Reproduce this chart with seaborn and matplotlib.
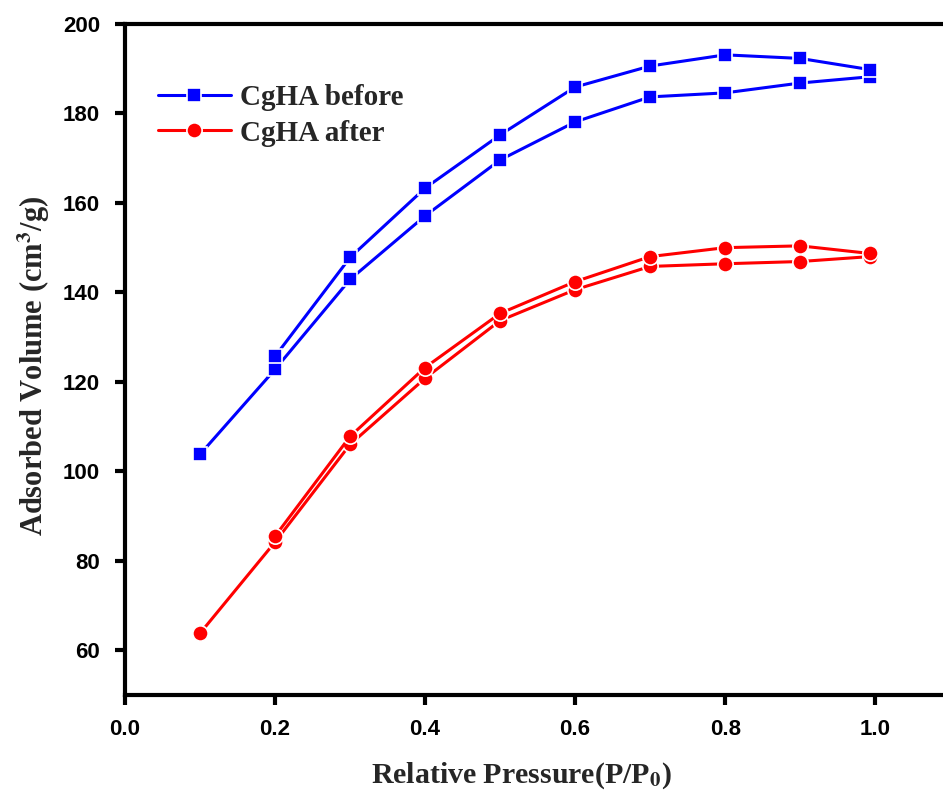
import matplotlib
matplotlib.use("Agg")
import matplotlib.pyplot as plt
import seaborn as sns
import pandas as pd

# DATA
pressure_ads = [0.1, 0.2, 0.3, 0.4, 0.5, 0.6, 0.7, 0.8, 0.9, 0.993]
pressure_des = [0.993, 0.9, 0.8, 0.7, 0.6, 0.5, 0.4, 0.3, 0.2]

before_ads = [103.8, 122.8, 142.9, 157.1, 169.6, 178.1, 183.7, 184.6, 186.8, 188.2]
before_des = [189.8, 192.3, 193.1, 190.6, 185.9, 175.2, 163.3, 147.8, 125.7]

after_ads = [63.8, 84.2, 106.0, 120.8, 133.7, 140.6, 145.8, 146.4, 146.9, 148.0]
after_des = [148.7, 150.4, 150.0, 148.0, 142.4, 135.3, 123.2, 107.8, 85.5]

XTICKS = [0.0, 0.2, 0.4, 0.6, 0.8, 1.0]
YTICKS = [60, 80, 100, 120, 140, 160, 180, 200]

sns.set_theme(style="ticks")
plt.rcParams["mathtext.fontset"] = "stix"

fig = plt.figure(figsize=(9.43, 7.94), dpi=100)
ax = fig.add_axes([0.1326, 0.1247, 0.875, 0.8451])

series = [
    ("CgHA before", "#0000ff", "s", 10, before_ads, before_des),
    ("CgHA after", "#ff0000", "o", 11, after_ads, after_des),
]

for label, color, marker, ms, ads, des in series:
    for i, (xs, ys) in enumerate([(pressure_ads, ads), (pressure_des, des)]):
        d = pd.DataFrame({"p": xs, "v": ys})
        sns.lineplot(data=d, x="p", y="v", sort=False, ax=ax,
                     color=color, linewidth=2.2, marker=marker,
                     markersize=ms, markeredgecolor="white",
                     markeredgewidth=1.2, markerfacecolor=color,
                     label=label if i == 0 else None)

ax.set_xlim(0, 1.1)
ax.set_ylim(50, 200)
ax.set_xticks(XTICKS)
ax.set_yticks(YTICKS)
ax.set_xticklabels([f"{t:.1f}" for t in XTICKS])

for side in ["left", "bottom", "top"]:
    ax.spines[side].set_linewidth(3)
    ax.spines[side].set_color("black")
ax.spines["right"].set_visible(False)

ax.tick_params(axis="both", direction="out", length=7, width=3,
               labelsize=16, colors="black")
ax.tick_params(axis="y", pad=11)
ax.tick_params(axis="x", pad=10)
for lbl in ax.get_xticklabels() + ax.get_yticklabels():
    lbl.set_fontweight("bold")
    lbl.set_family("Liberation Sans")

ax.set_xlabel(r"Relative Pressure(P/P$_{\mathbf{0}}$)", fontsize=21.5,
              fontweight="bold", family="Liberation Serif")
ax.xaxis.set_label_coords(0.48, -0.098)
ax.set_ylabel(r"Adsorbed Volume (cm$^{\mathbf{3}}$/g)", fontsize=22,
              fontweight="bold", family="Liberation Serif")
ax.yaxis.set_label_coords(-0.088, 0.49)

leg = ax.legend(loc="upper left", bbox_to_anchor=(0.008, 0.95), frameon=False,
                handlelength=2.5, handletextpad=0.3, labelspacing=0.3,
                prop={"family": "Liberation Serif", "weight": "bold", "size": 21})

fig.savefig("out.png", dpi=100)
